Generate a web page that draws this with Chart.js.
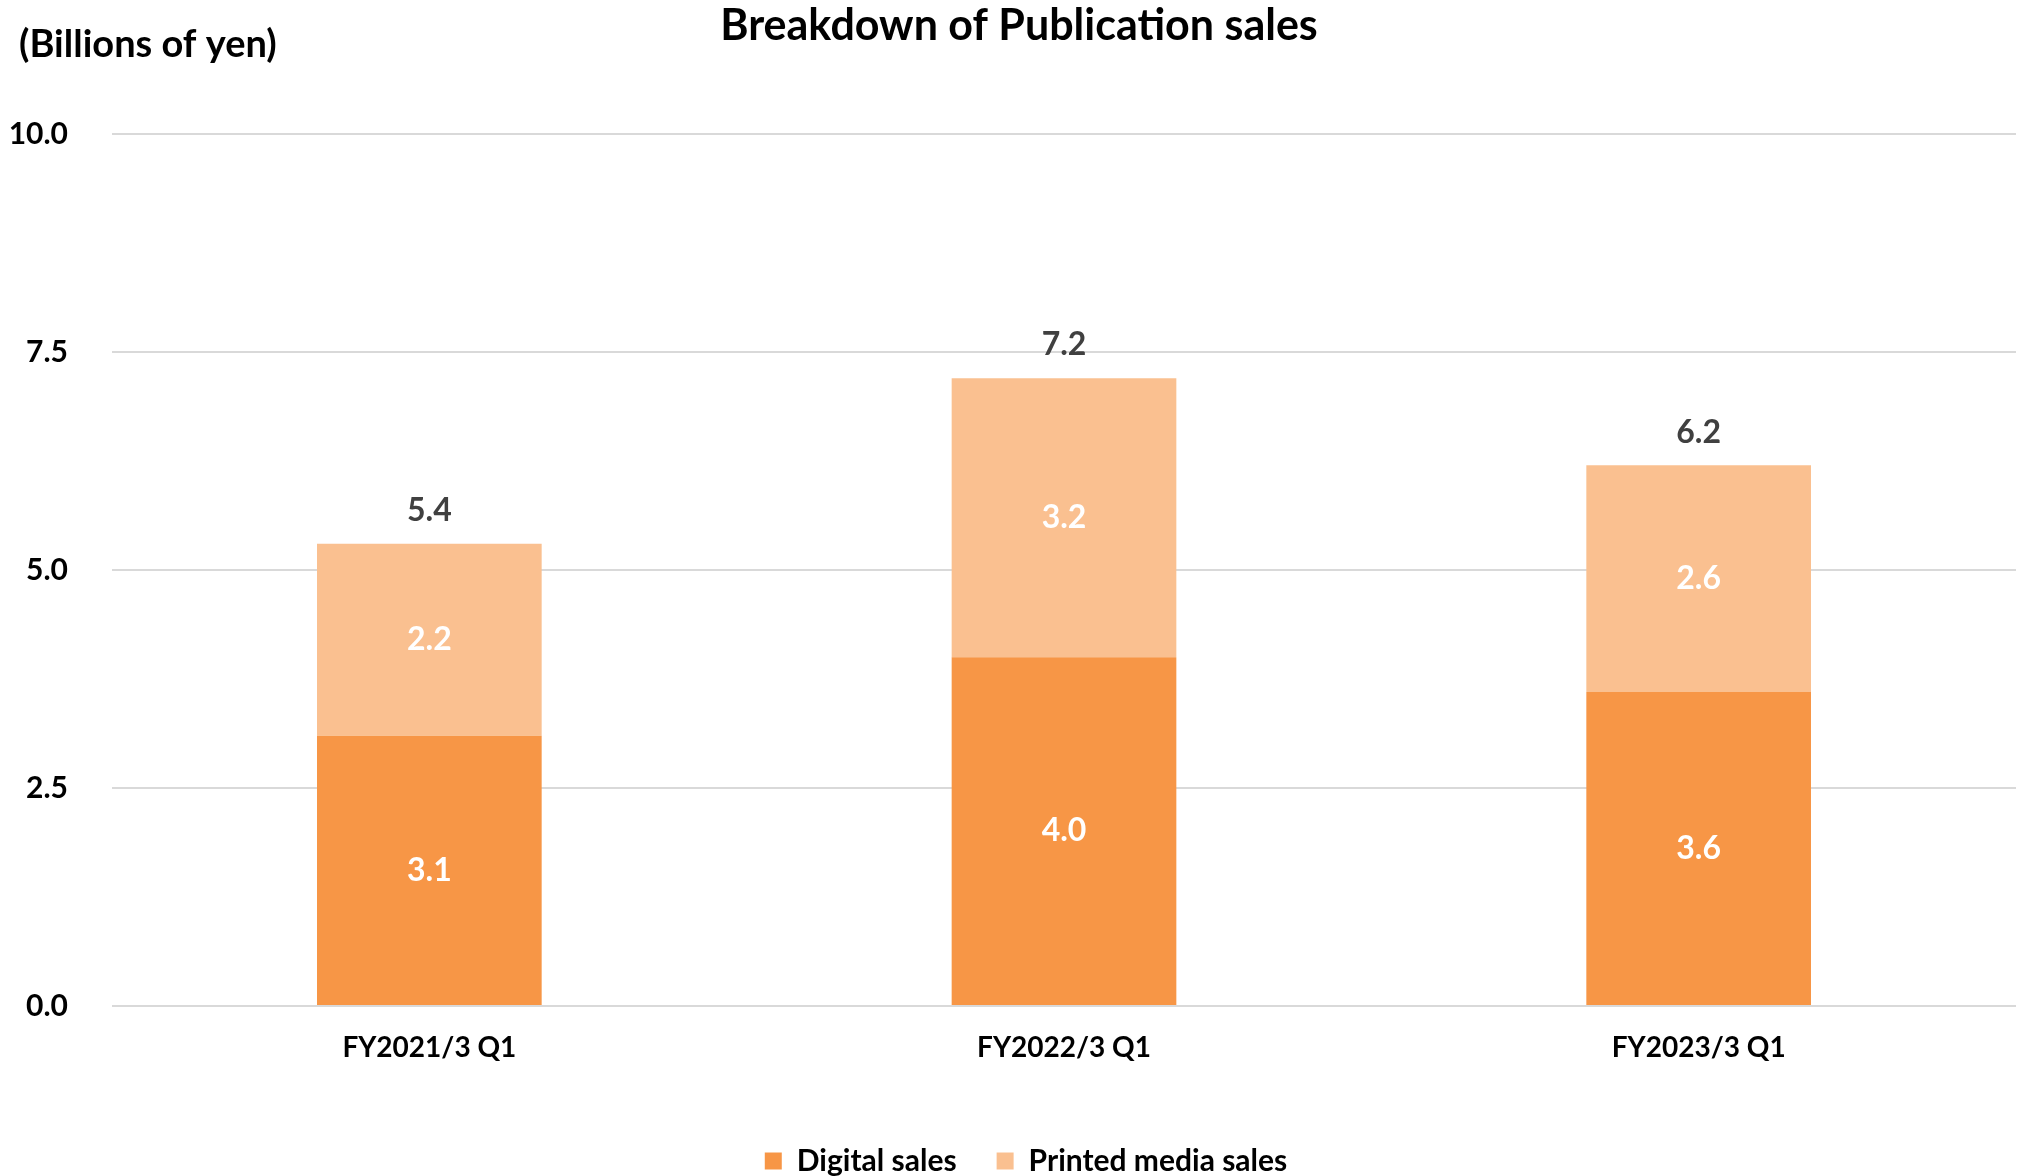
<!DOCTYPE html>
<html>
<head>
<meta charset="utf-8">
<script src="https://cdn.jsdelivr.net/npm/chart.js@4.4.0/dist/chart.umd.min.js"></script>
<style>
    html, body { margin: 0; padding: 0; background: #ffffff; }
    #wrap { width: 2022px; height: 1176px; }
</style>
</head>
<body>
<div id="wrap"><canvas id="myChart" width="2022" height="1176"></canvas></div>
<script>
var quarters = ['FY2021/3 Q1', 'FY2022/3 Q1', 'FY2023/3 Q1'];
var digital = [3.1, 4.0, 3.6];
var printed = [2.2, 3.2, 2.6];
var totals = ['5.4', '7.2', '6.2'];
var yTicks = [0, 2.5, 5, 7.5, 10];

var FONT = "Lato, 'Open Sans', sans-serif";

// unit caption, segment values and totals
var labelPlugin = {
    id: 'labels',
    afterLayout: function (chart) {
        // title and legend sit a little right of the canvas centre
        chart.titleBlock.left += 22;
        chart.legend.left += 36;
    },
    afterDatasetsDraw: function (chart) {
        var ctx = chart.ctx;
        ctx.save();
        ctx.textAlign = 'center';
        ctx.textBaseline = 'middle';
        ctx.font = 'bold 32px ' + FONT;
        chart.data.datasets.forEach(function (ds, i) {
            var meta = chart.getDatasetMeta(i);
            meta.data.forEach(function (bar, j) {
                ctx.fillStyle = '#ffffff';
                ctx.fillText(ds.data[j].toFixed(1), bar.x, (bar.y + bar.base) / 2);
            });
        });
        var top = chart.getDatasetMeta(chart.data.datasets.length - 1);
        top.data.forEach(function (bar, j) {
            ctx.fillStyle = '#404040';
            ctx.fillText(totals[j], bar.x, bar.y - 33);
        });
        ctx.textAlign = 'left';
        ctx.fillStyle = '#000000';
        ctx.font = 'bold 38px ' + FONT;
        ctx.fillText('(Billions of yen)', 19, 45);
        ctx.restore();
    }
};

var myChart = document.getElementById('myChart');
var chart = new Chart(myChart, {
    type: 'bar',
    data: {
        labels: quarters,
        datasets: [{
            label: 'Digital sales',
            data: digital,
            backgroundColor: '#F79646',
            categoryPercentage: 1,
            barPercentage: 0.354
        }, {
            label: 'Printed media sales',
            data: printed,
            backgroundColor: '#FAC090',
            categoryPercentage: 1,
            barPercentage: 0.354
        }]
    },
    options: {
        responsive: false,
        animation: false,
        layout: { padding: { left: 0, right: 6, top: 0, bottom: -10 } },
        plugins: {
            title: {
                display: true,
                text: 'Breakdown of Publication sales',
                color: '#000000',
                font: { family: FONT, size: 43, weight: 'bold', lineHeight: 1.2 },
                padding: { top: 0, bottom: 82.4 }
            },
            legend: {
                position: 'bottom',
                labels: {
                    color: '#000000',
                    font: { family: FONT, size: 30, weight: 'bold' },
                    boxWidth: 17,
                    boxHeight: 17,
                    padding: 40
                }
            },
            tooltip: { enabled: false }
        },
        scales: {
            x: {
                stacked: true,
                afterFit: function (axis) { axis.height = 100; },
                grid: { display: false, drawTicks: false },
                border: { display: false },
                ticks: {
                    color: '#000000',
                    font: { family: FONT, size: 28, weight: 'bold', lineHeight: 1.2 },
                    padding: 25
                }
            },
            y: {
                stacked: true,
                min: 0,
                max: 10,
                afterBuildTicks: function (axis) {
                    axis.ticks = yTicks.map(function (v) { return { value: v }; });
                },
                afterFit: function (axis) { axis.width = 112; },
                grid: { color: '#D9D9D9', lineWidth: 2, drawTicks: false },
                border: { display: false },
                ticks: {
                    color: '#000000',
                    font: { family: FONT, size: 30, weight: 'bold' },
                    padding: 44,
                    callback: function (v) { return v.toFixed(1); }
                }
            }
        }
    },
    plugins: [labelPlugin]
});
</script>
</body>
</html>
